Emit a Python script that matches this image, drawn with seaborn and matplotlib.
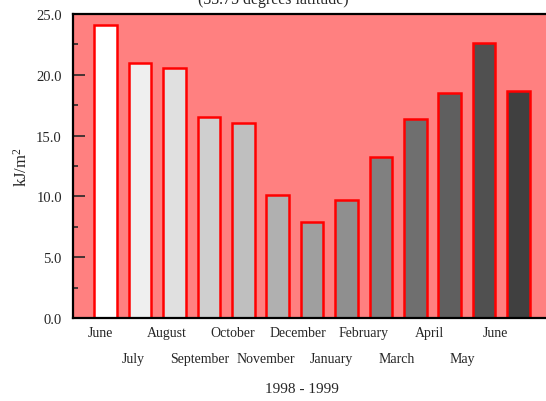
import numpy as np
import pandas as pd
import matplotlib
matplotlib.use("Agg")
import matplotlib.pyplot as plt
import seaborn as sns
from matplotlib.ticker import MultipleLocator

# monthly values, June 1998 - June 1999
months = ['June', 'July', 'August', 'September', 'October', 'November', 'December',
          'January', 'February', 'March', 'April', 'May', 'June']
years = [1998] * 7 + [1999] * 6
values = [24.1, 21.0, 20.6, 16.5, 16.0, 10.1, 7.9, 9.7, 13.2, 16.4, 18.5, 22.6, 18.7]

df = pd.DataFrame({'period': [f'{m} {y}' for m, y in zip(months, years)],
                   'value': values})

sns.set_style("ticks")
plt.rcParams['font.family'] = ['Liberation Serif', 'DejaVu Serif']
plt.rcParams['mathtext.default'] = 'regular'

fig = plt.figure(figsize=(5.46, 4.02), dpi=100)
ax = fig.add_axes([73 / 546, 83 / 402, 487 / 546, 304 / 402])
ax.set_facecolor('#ff8080')

greys = sns.blend_palette(['#ffffff', '#404040'], len(values))
sns.barplot(data=df, x='period', y='value', hue='period', palette=greys, legend=False,
            edgecolor='#ff0000', linewidth=1.8, width=0.66, saturation=1, ax=ax)

ax.set_xlim(-0.95, -0.95 + 487 / 34.4)
ax.set_ylim(0, 25)

# month labels in two staggered rows
pos = -0.14 + 0.956 * np.arange(len(months))
ax.set_xticks(pos[::2])
ax.set_xticklabels(months[::2], fontsize=10)
ax.set_xticks(pos[1::2], minor=True)
ax.set_xticklabels(months[1::2], minor=True, fontsize=10)
ax.tick_params(axis='x', which='major', length=0, pad=5.5)
ax.tick_params(axis='x', which='minor', length=0, pad=24.5)

ax.set_yticks(np.arange(0, 25.1, 5))
ax.set_yticklabels([f'{v:.1f}' for v in np.arange(0, 25.1, 5)], fontsize=10.5)
ax.yaxis.set_minor_locator(MultipleLocator(2.5))
ax.tick_params(axis='y', which='major', direction='in', length=8.5, width=1.2, pad=8)
ax.tick_params(axis='y', which='minor', direction='in', length=3.6, width=1.2)

ax.set_xlabel('')
ax.set_ylabel('kJ/m$^2$', fontsize=12, labelpad=4)

for side in ['left', 'top', 'bottom']:
    ax.spines[side].set_linewidth(1.6)
    ax.spines[side].set_color('black')
ax.spines['right'].set_visible(False)

fig.text(0.5, 1 - 4 / 402, '(33.75 degrees latitude)', ha='center', va='baseline', fontsize=11.5)
fig.text(302 / 546, 1 - 390 / 402, '1998 - 1999', ha='center', va='center', fontsize=11)

fig.savefig('out.png', dpi=100)
